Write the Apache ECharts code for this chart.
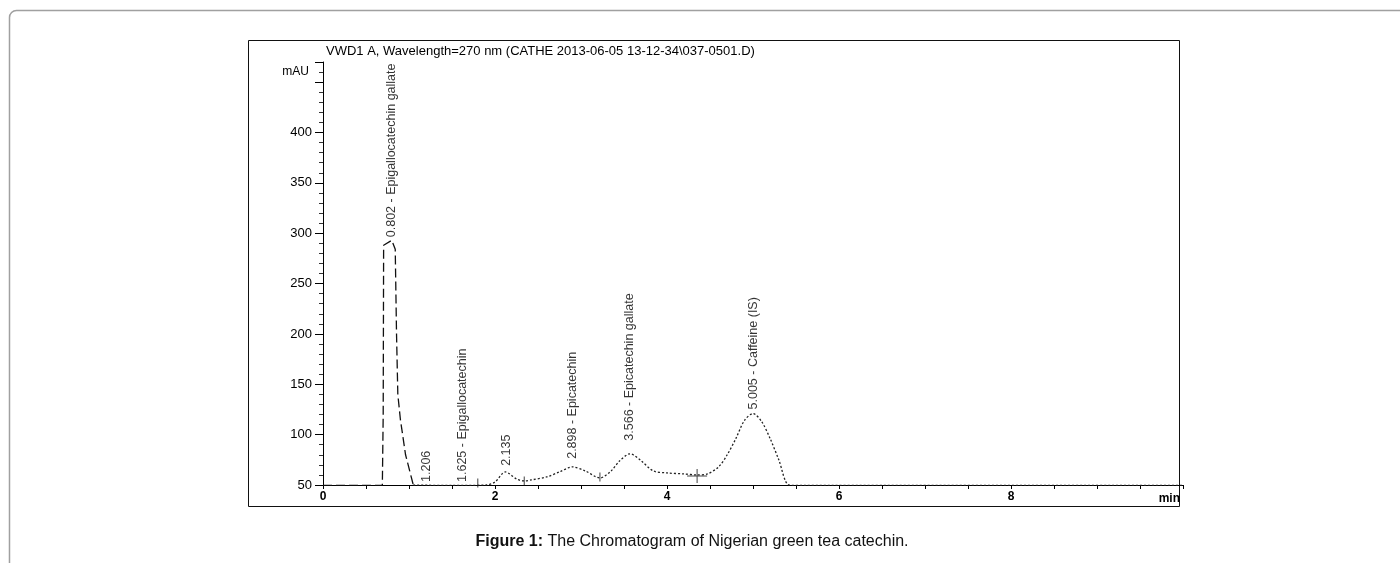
<!DOCTYPE html>
<html>
<head>
<meta charset="utf-8">
<script src="https://cdn.jsdelivr.net/npm/echarts@6/dist/echarts.min.js"></script>
<style>html,body{margin:0;padding:0;background:#fff;}#c{width:1400px;height:563px;}</style>
</head>
<body>
<div id="c"></div>
<script>
// Main (first) peak segment, time in min and signal in mAU
const mainPeakTime   = [0, 0.69, 0.70, 0.705, 0.80, 0.84, 0.855, 0.87, 0.90, 0.96, 1.05];
const mainPeakSignal = [49.5, 49.5, 120, 288, 293, 284, 200, 140, 115, 80, 50];
// Rest of the chromatogram trace
const restTime   = [1.05, 1.5, 1.9, 2.0, 2.12, 2.25, 2.34, 2.42, 2.6, 2.75, 2.9, 3.05, 3.22, 3.35, 3.45, 3.57, 3.7, 3.84, 4.0, 4.2, 4.35, 4.47, 4.6, 4.7, 4.8, 4.9, 5.0, 5.1, 5.2, 5.3, 5.42, 5.6, 10];
const restSignal = [50, 49.5, 50, 53, 63, 56, 54, 55, 58, 63, 68, 64, 57, 64, 74, 81, 74, 64, 62, 61, 60, 61, 68, 80, 96, 114, 121, 113, 96, 75, 50, 49.5, 49.5];
// Peak annotations
const peakTimes  = [0.802, 1.206, 1.625, 2.135, 2.898, 3.566, 5.005];
const peakLevels = [296, 53, 53, 69, 76, 94, 125];
const peakNames  = ['Epigallocatechin gallate', '', 'Epigallocatechin', '', 'Epicatechin', 'Epicatechin gallate', 'Caffeine (IS)'];
// Integration baseline markers
const markerTimes   = [1.80, 2.34, 3.22];
const markerSignals = [52, 54, 58];
const crossTimes    = [4.35];
const crossSignals  = [59];
// Axis settings
const xTickLabels = [0, 2, 4, 6, 8];
const yTickLabels = [50, 100, 150, 200, 250, 300, 350, 400];

const FONT = "'Liberation Sans', Arial, sans-serif";
const zip = (a, b) => a.map((v, i) => [v, b[i]]);

const chart = echarts.init(document.getElementById('c'), null, {renderer: 'canvas'});
chart.setOption({
  animation: false,
  backgroundColor: '#fff',
  textStyle: {fontFamily: FONT},
  title: {
    text: 'VWD1 A, Wavelength=270 nm (CATHE 2013-06-05 13-12-34\\037-0501.D)',
    left: 321, top: 40,
    textStyle: {fontFamily: FONT, fontSize: 13, fontWeight: 'normal', color: '#000'}
  },
  grid: {left: 323, top: 62, width: 860, height: 423, containLabel: false},
  xAxis: {
    type: 'value', min: 0, max: 10, interval: 0.5,
    name: 'min', nameLocation: 'end', nameGap: -3,
    nameTextStyle: {fontFamily: FONT, fontSize: 12, fontWeight: 'bold', color: '#000', align: 'right', verticalAlign: 'top', padding: [8, 0, 0, 0]},
    axisLine: {lineStyle: {color: '#000', width: 1}},
    axisTick: {length: 4, lineStyle: {color: '#000'}},
    axisLabel: {
      fontFamily: FONT, fontSize: 12, fontWeight: 'bold', color: '#000', margin: 6,
      formatter: v => (xTickLabels.indexOf(v) >= 0 ? String(v) : '')
    },
    splitLine: {show: false}
  },
  yAxis: {
    type: 'value', min: 50, max: 470, interval: 50,
    name: 'mAU', nameLocation: 'end', nameGap: -10,
    nameTextStyle: {fontFamily: FONT, fontSize: 12, color: '#000', align: 'right', verticalAlign: 'middle', padding: [0, 14, 0, 0]},
    axisLine: {lineStyle: {color: '#000', width: 1}},
    axisTick: {length: 8, lineStyle: {color: '#000'}},
    minorTick: {show: true, splitNumber: 5, length: 4, lineStyle: {color: '#333'}},
    axisLabel: {
      fontFamily: FONT, fontSize: 13, color: '#000', margin: 11,
      formatter: v => (yTickLabels.indexOf(v) >= 0 ? String(v) : '')
    },
    splitLine: {show: false}
  },
  series: [
    {
      type: 'line', data: zip(mainPeakTime, mainPeakSignal), symbol: 'none', smooth: false,
      lineStyle: {color: '#111', width: 1.3, type: [9, 4]}, z: 3
    },
    {
      type: 'line', data: zip(restTime, restSignal), symbol: 'none', smooth: 0.3,
      lineStyle: {color: '#222', width: 1.3, type: [2, 2]}, z: 3
    },
    {
      type: 'scatter', data: zip(markerTimes, markerSignals), symbol: 'rect', symbolSize: [1, 9],
      itemStyle: {color: '#111'}, z: 4
    },
    {
      type: 'scatter', data: zip(crossTimes, crossSignals),
      symbol: 'path://M0,6.5h20v1h-20zM9.5,0h1v14h-1z', symbolSize: [20, 14],
      itemStyle: {color: '#111'}, z: 4
    },
    {
      type: 'scatter', symbolSize: 0, itemStyle: {color: 'rgba(0,0,0,0)'},
      data: peakTimes.map((t, i) => [t, peakLevels[i], peakNames[i] ? t.toFixed(3) + ' - ' + peakNames[i] : t.toFixed(3)]),
      label: {
        show: true, position: 'top', distance: 0, rotate: 90,
        align: 'left', verticalAlign: 'middle',
        fontFamily: FONT, fontSize: 12.5, color: '#000',
        formatter: p => p.data[2]
      },
      z: 5
    }
  ],
  graphic: [
    {type: 'rect', shape: {x: 9.5, y: 10.5, width: 1400, height: 570, r: 7}, style: {fill: 'none', stroke: '#a0a0a0', lineWidth: 1.5}, silent: true},
    {type: 'rect', shape: {x: 248.5, y: 40.5, width: 931, height: 466}, style: {fill: 'none', stroke: '#111', lineWidth: 1}, silent: true},
    {type: 'text', x: 692, y: 542, style: {
      text: '{b|Figure 1:} The Chromatogram of Nigerian green tea catechin.',
      textAlign: 'center', textVerticalAlign: 'middle',
      font: '16px ' + FONT, fill: '#111',
      rich: {b: {fontWeight: 'bold', fontSize: 16, fontFamily: FONT, fill: '#111'}}
    }}
  ]
});
</script>
</body>
</html>
